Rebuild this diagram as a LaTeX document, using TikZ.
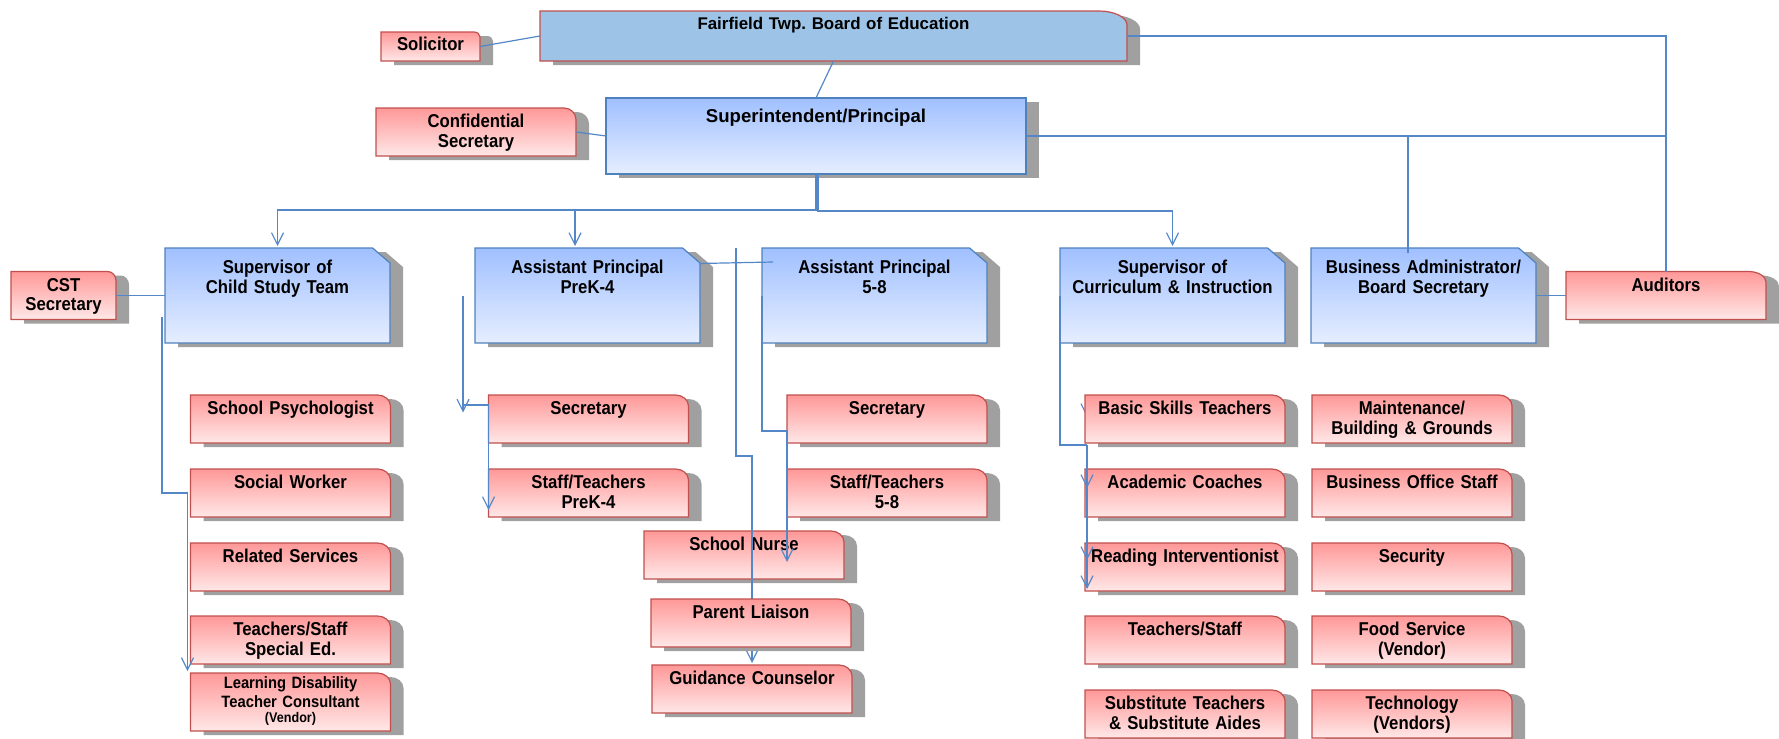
\documentclass[tikz,border=0pt]{standalone}
\usepackage{fontspec}
\setmainfont{Liberation Sans}[FakeStretch=0.9]
\newfontfamily\widefont{Liberation Sans}
\usepackage{xcolor}
\usepackage{tikz}
\usetikzlibrary{positioning,shadows,arrows.meta}

\definecolor{pinktop}{RGB}{255,152,152}
\definecolor{pinkbot}{RGB}{255,232,232}
\definecolor{bluetop}{RGB}{160,192,255}
\definecolor{bluebot}{RGB}{230,238,255}
\definecolor{boardblue}{RGB}{157,195,230}
\definecolor{boxred}{RGB}{192,80,77}
\definecolor{boxblue}{RGB}{79,129,189}
\definecolor{linkblue}{RGB}{84,135,200}
\definecolor{shadowgray}{RGB}{160,160,160}

% rectangle with one special corner (north east), rounded or cut off
\makeatletter
\newdimen\tabcornerx \tabcornerx=6.5pt
\newdimen\tabcornery \tabcornery=5.5pt
\def\tabcornerkind{0}
\pgfdeclareshape{tabbox}{%
	\inheritsavedanchors[from=rectangle]%
	\inheritanchorborder[from=rectangle]%
	\inheritanchor[from=rectangle]{center}%
	\inheritanchor[from=rectangle]{north}%
	\inheritanchor[from=rectangle]{south}%
	\inheritanchor[from=rectangle]{east}%
	\inheritanchor[from=rectangle]{west}%
	\inheritanchor[from=rectangle]{north east}%
	\inheritanchor[from=rectangle]{north west}%
	\inheritanchor[from=rectangle]{south east}%
	\inheritanchor[from=rectangle]{south west}%
	\inheritanchor[from=rectangle]{text}%
	\inheritanchor[from=rectangle]{base}%
	\inheritanchor[from=rectangle]{mid}%
	\backgroundpath{%
		\southwest \pgf@xa=\pgf@x \pgf@ya=\pgf@y
		\northeast \pgf@xb=\pgf@x \pgf@yb=\pgf@y
		\pgf@xc=\pgf@xb \advance\pgf@xc by -\tabcornerx
		\pgf@yc=\pgf@yb \advance\pgf@yc by -\tabcornery
		\edef\tab@sw{\noexpand\pgfqpoint{\the\pgf@xa}{\the\pgf@ya}}%
		\edef\tab@nw{\noexpand\pgfqpoint{\the\pgf@xa}{\the\pgf@yb}}%
		\edef\tab@na{\noexpand\pgfqpoint{\the\pgf@xc}{\the\pgf@yb}}%
		\edef\tab@eb{\noexpand\pgfqpoint{\the\pgf@xb}{\the\pgf@yc}}%
		\edef\tab@se{\noexpand\pgfqpoint{\the\pgf@xb}{\the\pgf@ya}}%
		\pgf@x=\pgf@xc \advance\pgf@x by 0.55\tabcornerx
		\edef\tab@ca{\noexpand\pgfqpoint{\the\pgf@x}{\the\pgf@yb}}%
		\pgf@y=\pgf@yc \advance\pgf@y by 0.55\tabcornery
		\edef\tab@cb{\noexpand\pgfqpoint{\the\pgf@xb}{\the\pgf@y}}%
		\pgfpathmoveto{\tab@sw}%
		\pgfpathlineto{\tab@nw}%
		\pgfpathlineto{\tab@na}%
		\ifnum\tabcornerkind=1
			\pgfpathlineto{\tab@eb}%
		\else
			\pgfpathcurveto{\tab@ca}{\tab@cb}{\tab@eb}%
		\fi
		\pgfpathlineto{\tab@se}%
		\pgfpathclose
	}%
}
\makeatother
\tikzset{
	tab corner/.code 2 args={\tabcornerx=#1\relax\tabcornery=#2\relax},
	tab round/.code={\def\tabcornerkind{0}},
	tab cut/.code={\def\tabcornerkind{1}},
}

\begin{document}
\begin{tikzpicture}[x=0.5pt, y=-0.5pt,
		shadowed/.style={drop shadow={shadow xshift=6.5pt, shadow yshift=-2pt, fill=shadowgray, opacity=1}},
		board/.style={shape=tabbox, tab round, tab corner={14pt}{7pt}, shadowed, draw=boxred, fill=boardblue, line width=0.6pt, inner sep=0pt, outer sep=0pt, align=center, font=\widefont\bfseries\fontsize{8.45}{10}\selectfont},
		chief/.style={rectangle, shadowed, draw=boxblue, top color=bluetop, bottom color=bluebot, line width=0.6pt, inner sep=0pt, outer sep=0pt, align=center, font=\widefont\bfseries\fontsize{9.3}{10}\selectfont},
		dept/.style={shape=tabbox, tab cut, tab corner={8.7pt}{7.5pt}, shadowed, draw=boxblue, top color=bluetop, bottom color=bluebot, line width=0.6pt, inner xsep=2.25pt, inner ysep=0pt, outer sep=0pt, text width=108pt, align=center, text height=12.8pt, text depth=34.7pt},
		staff/.style={shape=tabbox, tab round, tab corner={6.5pt}{5.5pt}, shadowed, draw=boxred, top color=pinktop, bottom color=pinkbot, line width=0.6pt, inner xsep=2pt, inner ysep=0pt, outer sep=0pt, text width=96pt, align=center, text height=9.8pt, text depth=14.2pt},
		wire/.style={draw=linkblue, line width=0.6pt},
		feed/.style={wire, -{Straight Barb[length=6pt,width=6pt]}, shorten >=1pt},
		every node/.append style={font=\bfseries\fontsize{9.3}{9.8}\selectfont},
		]
		\useasboundingbox (0,0) rectangle (1779,739);

		%Board and Superintendent
		\node[board, text width=293.5pt, text height=9.35pt, text depth=15.65pt]	(board)	at (833.5,36)	{Fairfield Twp.\ Board of Education};
		\node[staff, tab corner={3pt}{2.5pt}, text width=45.5pt, text height=9.35pt, text depth=5.15pt]	(solicitor)	at (430.5,46.5)	{Solicitor};
		\node[chief, text width=210pt, text height=12.35pt, text depth=25.65pt]	(super)	at (816,136)	{Superintendent/Principal};
		\node[staff, tab corner={6pt}{5.8pt}]	(conf_sec)	at (476,132)	{Confidential\\Secretary};

		%Department heads
		\node[dept]	(sup_cst)	at (277.5,295.5)	{Supervisor of\\Child Study Team};
		\node[dept]	(ap_k4)		[right=42.5pt of sup_cst]	{Assistant Principal\\PreK-4};
		\node[dept]	(ap_58)		[right=31pt of ap_k4]	{Assistant Principal\\5-8};
		\node[dept]	(sup_ci)	[right=36.5pt of ap_58]	{Supervisor of\\Curriculum \& Instruction};
		\node[dept]	(bus_adm)	[right=13pt of sup_ci]	{Business Administrator/\\Board Secretary};
		\node[staff, tab corner={8.8pt}{5.3pt}]	(auditors)	[right=15pt of bus_adm]	{Auditors};
		\node[staff, tab corner={4.2pt}{4.5pt}, text width=48.5pt]	(cst_sec)	[left=24.5pt of sup_cst]	{CST\\Secretary};

		%Child Study Team
		\node[staff]	(cst_1)	at (290.5,419)	{School Psychologist};
		\node[staff]	(cst_2)	[below=13pt of cst_1]	{Social Worker};
		\node[staff]	(cst_3)	[below=13pt of cst_2]	{Related Services};
		\node[staff]	(cst_4)	[below=12.5pt of cst_3]	{Teachers/Staff\\Special Ed.};
		\node[staff, text height=7.5pt, text depth=21.5pt, font=\bfseries\fontsize{8.2}{9.5}\selectfont]	(cst_5)	[below=4.5pt of cst_4]	{Learning Disability\\Teacher Consultant\\[-2pt]{\fontsize{7}{8}\selectfont (Vendor)}};

		%PreK-4 and 5-8
		\node[staff]	(k4_1)	at (588.5,419)	{Secretary};
		\node[staff]	(k4_2)	[below=13pt of k4_1]	{Staff/Teachers\\PreK-4};
		\node[staff]	(g58_1)	at (887,419)	{Secretary};
		\node[staff]	(g58_2)	[below=13pt of g58_1]	{Staff/Teachers\\5-8};
		\node[staff]	(nurse)	at (744,555)	{School Nurse};
		\node[staff]	(counsel)	at (752,689)	{Guidance Counselor};

		%Curriculum & Instruction
		\coordinate	(ci_pin)	at (1087,419);
		\draw[feed]	([yshift=9pt]ci_pin) -- (ci_pin);
		\node[staff]	(ci_1)	at (1185,419)	{Basic Skills Teachers};
		\node[staff]	(ci_2)	[below=13pt of ci_1]	{Academic Coaches};
		\node[staff]	(ci_3)	[below=13pt of ci_2]	{Reading Interventionist};
		\node[staff]	(ci_4)	[below=12.5pt of ci_3]	{Teachers/Staff};
		\node[staff]	(ci_5)	[below=13pt of ci_4]	{Substitute Teachers\\\& Substitute Aides};

		%Business Office
		\node[staff]	(ba_1)	at (1412,419)	{Maintenance/\\Building \& Grounds};
		\node[staff]	(ba_2)	[below=13pt of ba_1]	{Business Office Staff};
		\node[staff]	(ba_3)	[below=13pt of ba_2]	{Security};
		\node[staff]	(ba_4)	[below=12.5pt of ba_3]	{Food Service\\(Vendor)};
		\node[staff]	(ba_5)	[below=13pt of ba_4]	{Technology\\(Vendors)};

		%Connectors
		\draw[wire]	(solicitor.east) -- (board.west);
		\draw[wire]	(board.south) -- (super.north);
		\draw[wire]	(conf_sec.east) -- (super.west);
		\draw[wire]	(board.east) -| (auditors.north);
		\draw[wire]	(super.east) -| (auditors.north);
		\draw[wire]	([xshift=-7.75pt,yshift=-2.5pt]bus_adm.north) -- ++(0,-117);
		\draw[wire]	(bus_adm.east) -- (auditors.west);
		\draw[wire]	(cst_sec.east) -- (sup_cst.west);
		\draw[feed]	(super.south) -- ++(0,36) -| (sup_cst.north);
		\draw[feed]	(super.south) -- ++(0,36) -| ([xshift=-6.25pt]ap_k4.north);
		\draw[feed]	([xshift=1pt]super.south) -- ++(0,37) -| (sup_ci.north);
		\draw[wire]	([yshift=16pt]ap_k4.east) -- ([xshift=5.5pt,yshift=16.75pt]ap_58.west);

		\draw[feed]	([xshift=-1.5pt,yshift=-10.75pt]sup_cst.west) |- ([xshift=-1.5pt]cst_2.west) -- ([xshift=-1.5pt]cst_5.north west);
		\draw[feed]	([xshift=-6pt]ap_k4.west) -- ++(0,119);
		\draw[feed]	([xshift=-6pt,yshift=-30.5pt]ap_k4.west) |- ([yshift=7pt]k4_1.west) -- ([yshift=2.5pt]k4_2.south west);
		\draw[feed]	([xshift=18pt]ap_k4.north east) -- ++(0,208) -| (counsel.north);
		\draw[feed]	(ap_58.west) |- ([yshift=6pt]g58_1.south west) -- ++(0,133);
		\draw[wire]	(sup_ci.west) |- ([xshift=1pt,yshift=-1pt]ci_1.south west);
		\draw[feed]	([xshift=1pt,yshift=-1pt]ci_1.south west) -- ([xshift=1pt,yshift=1.5pt]ci_2.west);
		\draw[feed]	([xshift=1pt,yshift=-1pt]ci_1.south west) -- ([xshift=1pt,yshift=2.5pt]ci_3.west);
		\draw[feed]	([xshift=1pt,yshift=-1pt]ci_1.south west) -- ([xshift=1pt]ci_3.south west);

		%Parent Liaison sits over the counselor line
		\node[staff]	(liaison)	at (751,623)	{Parent Liaison};
\end{tikzpicture}
\end{document}
